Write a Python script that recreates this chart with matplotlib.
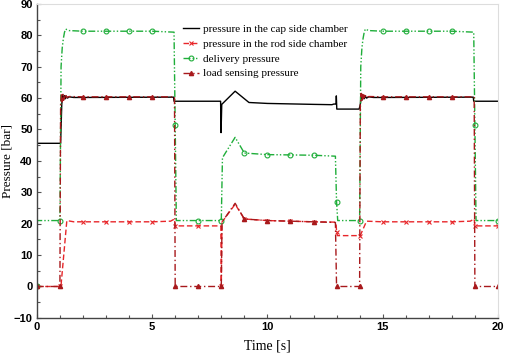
import numpy as np
import matplotlib.pyplot as plt

# time [s] and pressure [bar]
t_cap = [0, 0.01, 1.03, 1.08, 1.12, 1.16, 1.2, 1.24, 1.28, 1.33, 1.4, 1.6, 2, 5.93, 5.95, 7.97, 7.99, 8.02, 8.6, 9.2, 10, 12, 12.8, 12.88, 12.98, 12.99, 13.01, 13.98, 14.03, 14.08, 14.12, 14.16, 14.2, 14.25, 14.3, 14.4, 14.6, 15, 18.93, 18.95, 20]
p_cap = [49, 45.6, 45.6, 58, 61, 59.5, 60.8, 59.8, 60.6, 60.0, 60.4, 60.2, 60.2, 60.3, 59.0, 59.0, 49.0, 58.0, 62.2, 58.6, 58.3, 58.0, 57.9, 58.1, 58.1, 60.7, 56.5, 56.5, 58, 61, 59.5, 60.8, 59.8, 60.6, 60.0, 60.4, 60.2, 60.2, 60.3, 59.0, 59.0]

t_rod = [0, 1, 1.05, 1.3, 1.6, 2, 3, 4, 5, 5.8, 5.97, 6, 7, 7.98, 7.99, 8, 8.03, 8.6, 9, 10, 11, 12, 12.9, 12.98, 13, 13.04, 14, 14.05, 14.3, 15, 16, 17, 18, 18.8, 18.97, 19, 20]
p_rod = [0, 0, 0.5, 21, 20.6, 20.6, 20.6, 20.6, 20.6, 20.8, 21.5, 19.3, 19.3, 19.3, 10, 0, 20.5, 26.2, 21.5, 21, 20.8, 20.6, 20.5, 20.0, 17.5, 16.2, 16.2, 16.6, 20.8, 20.6, 20.6, 20.6, 20.6, 20.8, 21.5, 19.3, 19.3]

t_del = [0, 0.02, 1, 1.05, 1.1, 1.15, 1.2, 1.25, 1.3, 1.4, 2, 3, 4, 5, 5.95, 6, 6.05, 7, 8, 8.05, 8.6, 9, 10, 11, 12, 12.95, 13, 13.05, 14, 14.05, 14.1, 14.15, 14.2, 14.25, 14.3, 14.4, 15, 16, 17, 18, 18.95, 19, 19.05, 20]
p_del = [0, 21, 21, 70, 76, 79, 81, 82, 81.8, 81.5, 81.3, 81.3, 81.3, 81.3, 81.0, 51.5, 21, 21, 21, 41, 47.5, 42.5, 42.0, 41.9, 41.8, 41.5, 27, 21, 21, 70, 76, 79, 81, 82, 81.8, 81.5, 81.3, 81.3, 81.3, 81.3, 81.0, 51.5, 21, 21]

t_ls = [0, 1, 1.03, 1.07, 1.1, 1.13, 1.16, 1.19, 1.22, 1.26, 1.3, 1.4, 2, 3, 4, 5, 5.97, 6, 7, 8, 8.03, 8.6, 9, 10, 11, 12, 12.95, 13, 14, 14.03, 14.07, 14.1, 14.13, 14.16, 14.19, 14.22, 14.26, 14.3, 14.4, 15, 16, 17, 18, 18.97, 19, 20]
p_ls = [0, 0, 58, 61.5, 58.8, 61.2, 59.3, 61.0, 59.8, 60.8, 60.2, 60.5, 60.4, 60.4, 60.4, 60.4, 60.4, 0, 0, 0, 20.5, 26.5, 21.5, 21.0, 20.8, 20.6, 20.4, 0, 0, 58, 61.5, 58.8, 61.2, 59.3, 61.0, 59.8, 60.8, 60.2, 60.5, 60.4, 60.4, 60.4, 60.4, 60.4, 0, 0]

labels = ['pressure in the cap side chamber', 'pressure in the rod side chamber',
          'delivery pressure', 'load sensing pressure']


def on_seconds(t):
    t = np.array(t)
    return np.isclose(t, np.round(t))


fig = plt.figure(figsize=(5.05, 3.54), dpi=100)
ax = fig.add_axes([0.073, 0.102, 0.913, 0.887])

ax.plot(t_cap, p_cap, color='black', lw=1.0, label=labels[0])
ax.plot(t_rod, p_rod, color='#e8262a', lw=1.0, ls=(0, (4, 2)), marker='x', ms=3, mew=0.8,
        markevery=list(on_seconds(t_rod)), label=labels[1])
ax.plot(t_del, p_del, color='#1fae3a', lw=1.0, ls=(0, (5, 1.5, 1, 1.5, 1, 1.5)), marker='o', ms=3.5,
        mfc='none', mew=0.8, markevery=list(on_seconds(t_del)), label=labels[2])
ax.plot(t_ls, p_ls, color='#a8191c', lw=1.0, ls=(0, (5, 2, 1, 2)), marker='^', ms=3,
        markevery=list(on_seconds(t_ls)), label=labels[3])

ax.set_xlim(0, 20)
ax.set_ylim(-10, 90)
ax.set_xticks([0, 5, 10, 15, 20])
ax.set_xticks(np.arange(0, 21, 1), minor=True)
ax.set_yticks(np.arange(-10, 91, 10))
ax.set_yticks(np.arange(-10, 91, 5), minor=True)
ax.tick_params(which='both', direction='in', length=3, width=0.8, colors='#555555', labelcolor='black', pad=3)
ax.tick_params(which='minor', length=2)
for lab in ax.get_xticklabels() + ax.get_yticklabels():
    lab.set_fontweight('bold')
    lab.set_fontsize(8)
    lab.set_family('Liberation Sans')

for s in ['top', 'right']:
    ax.spines[s].set_color('#dddddd')
    ax.spines[s].set_linewidth(0.8)
for s in ['left', 'bottom']:
    ax.spines[s].set_color('#444444')
    ax.spines[s].set_linewidth(1.0)

ax.set_xlabel('Time [s]', family='Liberation Serif', fontsize=10)
ax.set_ylabel('Pressure [bar]', family='Liberation Serif', fontsize=9.5)
ax.xaxis.set_label_coords(0.5, -0.07)
ax.yaxis.set_label_coords(-0.05, 0.5)

ax.legend(loc='upper left', bbox_to_anchor=(0.3065, 0.949), frameon=False,
          prop={'family': 'Liberation Serif', 'size': 8}, handlelength=1.45,
          handletextpad=0.36, labelspacing=0.45, borderaxespad=0)

fig.savefig('out.png', dpi=100)
